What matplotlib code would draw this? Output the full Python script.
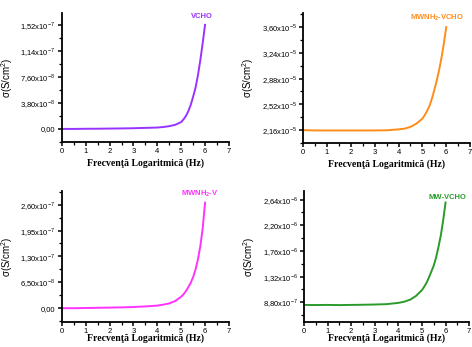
import matplotlib
matplotlib.use("Agg")
import matplotlib.pyplot as plt
from matplotlib.ticker import MultipleLocator, FixedLocator, AutoMinorLocator
import numpy as np

# log frequency points (Hz)
freq = [0, 0.5, 1, 1.5, 2, 2.5, 3, 3.5, 4, 4.25, 4.5, 4.75, 5, 5.1, 5.2, 5.3,
        5.4, 5.5, 5.6, 5.7, 5.8, 5.9, 6.0]

# conductivity
vcho = [0, 0, 0.02, 0.03, 0.05, 0.07, 0.1, 0.15, 0.2, 0.28, 0.4, 0.6, 1.0, 1.4,
        1.9, 2.6, 3.5, 4.7, 6.0, 7.8, 10.0, 12.5, 15.2]              # x1e-8
mwnh2_vcho = [2.160, 2.155, 2.155, 2.155, 2.155, 2.155, 2.155, 2.157, 2.17,
              2.18, 2.205, 2.25, 2.32, 2.37, 2.43, 2.50, 2.60, 2.72, 2.85,
              3.00, 3.17, 3.37, 3.60]                                # x1e-5
mwnh2_v = [0, 0, 0.005, 0.01, 0.015, 0.02, 0.03, 0.045, 0.065, 0.09, 0.12,
           0.18, 0.29, 0.35, 0.43, 0.53, 0.64, 0.78, 0.97, 1.22, 1.55, 2.0,
           2.65]                                                     # x1e-7
mw_vcho = [0.835, 0.833, 0.835, 0.832, 0.835, 0.838, 0.842, 0.848, 0.87,
           0.89, 0.925, 0.99, 1.09, 1.15, 1.22, 1.31, 1.41, 1.51, 1.65, 1.83,
           2.03, 2.29, 2.59]                                         # x1e-6

panels = [
    # name, values, ticks, ticklabels, ylim, colour, rect, label pos, xlabel pad
    ("VCHO", vcho, [0, 3.8, 7.6, 11.4, 15.2],
     ["0,00", "3,80x10$^{\\mathregular{-8}}$", "7,60x10$^{\\mathregular{-8}}$",
      "1,14x10$^{\\mathregular{-7}}$", "1,52x10$^{\\mathregular{-7}}$"],
     (-1.9, 16.95), "#9933ff", [0.131, 0.591, 0.354, 0.372], (0.905, 0.975), 2),
    ("MWNH$_\\mathregular{2}$-VCHO", mwnh2_vcho, [2.16, 2.52, 2.88, 3.24, 3.60],
     ["2,16x10$^{\\mathregular{-5}}$", "2,52x10$^{\\mathregular{-5}}$",
      "2,88x10$^{\\mathregular{-5}}$", "3,24x10$^{\\mathregular{-5}}$",
      "3,60x10$^{\\mathregular{-5}}$"],
     (1.98, 3.80), "#ff8c1a", [0.642, 0.588, 0.354, 0.375], (0.965, 0.96), 2),
    ("MWNH$_\\mathregular{2}$-V", mwnh2_v, [0, 0.65, 1.30, 1.95, 2.60],
     ["0,00", "6,50x10$^{\\mathregular{-8}}$", "1,30x10$^{\\mathregular{-7}}$",
      "1,95x10$^{\\mathregular{-7}}$", "2,60x10$^{\\mathregular{-7}}$"],
     (-0.347, 2.947), "#ff33ff", [0.131, 0.072, 0.354, 0.378], (0.94, 0.977), -1),
    ("MW-VCHO", mw_vcho, [0.88, 1.32, 1.76, 2.20, 2.64],
     ["8,80x10$^{\\mathregular{-7}}$", "1,32x10$^{\\mathregular{-6}}$",
      "1,76x10$^{\\mathregular{-6}}$", "2,20x10$^{\\mathregular{-6}}$",
      "2,64x10$^{\\mathregular{-6}}$"],
     (0.542, 2.79), "#2a9a2a", [0.644, 0.072, 0.350, 0.378], (0.985, 0.947), -1),
]

fig = plt.figure(figsize=(4.72, 3.47), dpi=100)

for name, vals, ticks, labels, ylim, col, rect, txtpos, xpad in panels:
    ax = fig.add_axes(rect)
    ax.plot(freq, vals, color=col, lw=1.4)
    ax.set_xlim(0, 7)
    ax.set_ylim(*ylim)
    ax.spines["top"].set_visible(False)
    ax.spines["right"].set_visible(False)
    ax.spines["left"].set_linewidth(1.3)
    ax.spines["bottom"].set_linewidth(1.3)
    ax.xaxis.set_major_locator(MultipleLocator(1))
    ax.xaxis.set_minor_locator(MultipleLocator(0.5))
    ax.yaxis.set_major_locator(FixedLocator(ticks))
    ax.yaxis.set_minor_locator(AutoMinorLocator(2))
    ax.set_yticklabels(labels)
    ax.tick_params(which="major", direction="out", length=3, width=1.1,
                   labelsize=5.5, pad=1.5)
    ax.tick_params(which="minor", direction="out", length=2, width=0.9)
    for t in ax.get_xticklabels() + ax.get_yticklabels():
        t.set_family("Liberation Sans")
    ax.set_xlabel("Frecvenţă Logaritmică (Hz)", family="Liberation Serif",
                  fontweight="bold", fontsize=7, labelpad=xpad)
    ax.set_ylabel("σ(S/cm$^\\mathregular{2}$)", family="Liberation Sans",
                  fontsize=7, labelpad=4)
    ax.text(txtpos[0], txtpos[1], name, transform=ax.transAxes, color=col,
            fontsize=5.5, fontweight="bold", family="Liberation Sans",
            ha="right", va="center")

fig.savefig("out.png", dpi=100)
